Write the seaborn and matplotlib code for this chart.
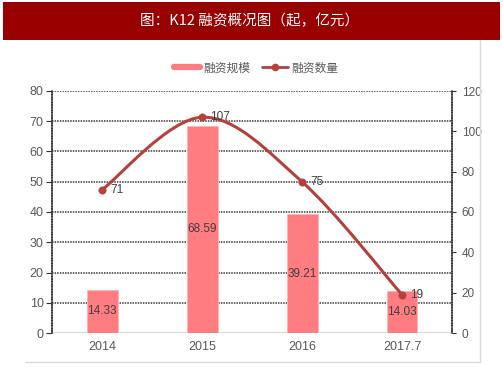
import matplotlib
matplotlib.use("Agg")
import matplotlib.pyplot as plt
import seaborn as sns
import pandas as pd
import numpy as np
from matplotlib.path import Path
from matplotlib.patches import PathPatch, Rectangle
from matplotlib.lines import Line2D

categories = ["2014", "2015", "2016", "2017.7"]
amount = [14.33, 68.59, 39.21, 14.03]      # 融资规模 (亿元)
count = [71, 107, 75, 19]                  # 融资数量 (起)
left_ticks = [0, 10, 20, 30, 40, 50, 60, 70, 80]
right_ticks = [0, 20, 40, 60, 80, 100, 120]

sns.set_theme(style="white")
plt.rcParams['font.family'] = ['Liberation Sans', 'Noto Sans CJK SC', 'DejaVu Sans']

W, H = 503, 378
fig = plt.figure(figsize=(W / 100, H / 100), dpi=100)
fig.patch.set_facecolor("white")

# title banner
fig.patches.append(Rectangle((3 / W, 1 - 40 / H), 497 / W, 38 / H, transform=fig.transFigure,
                             facecolor="#990000", edgecolor="none", zorder=0))
fig.text(250 / W, 1 - 21 / H, "图：K12 融资概况图（起，亿元）", color="white",
         fontsize=10.5, ha="center", va="center",
         family=['Noto Sans CJK SC', 'DejaVu Sans'])
# panel border (right + bottom)
fig.add_artist(Line2D([480 / W, 480 / W], [1 - 362 / H, 1 - 40 / H], transform=fig.transFigure,
                      color="#D9D9D9", lw=1))
fig.add_artist(Line2D([25 / W, 480 / W], [1 - 362 / H, 1 - 362 / H], transform=fig.transFigure,
                      color="#D9D9D9", lw=1))

ax = fig.add_axes([52 / W, 1 - 333 / H, 400 / W, 242 / H])
df = pd.DataFrame({"cat": categories, "amount": amount, "count": count})
bar_color = "#FF7C80"
line_color = "#B5403C"
sns.barplot(data=df, x="cat", y="amount", ax=ax, color=bar_color, width=0.31,
            saturation=1, edgecolor="#FFB3B5", linewidth=0.6, zorder=3)
ax.set_xlim(-0.5, 3.5)
ax.set_ylim(0, 80)
ax.set_yticks(left_ticks)
ax.set_xlabel("")
ax.set_ylabel("")
for y in left_ticks[1:]:
    ax.axhline(y, color="#3A3A3A", lw=1.1, ls=(0, (1.0, 0.7)), zorder=1)
ax.axhline(0, color="#D9D9D9", lw=1.5, zorder=2)
for s in ["top", "bottom", "right"]:
    ax.spines[s].set_visible(False)
ax.spines["left"].set_visible(True)
ax.spines["left"].set_color("#3A3A3A")
ax.spines["left"].set_linestyle((0, (1.0, 0.7)))
ax.spines["left"].set_linewidth(1.1)
ax.tick_params(axis="y", length=4, width=0.8, color="#333333", direction="out",
               labelsize=9, labelcolor="#595959", pad=2, left=True)
ax.tick_params(axis="x", length=0, labelsize=9, labelcolor="#595959", pad=6)

for i, v in enumerate(amount):
    ax.text(i, v / 2, f"{v:.2f}", ha="center", va="center", fontsize=8.5,
            color="#404040", zorder=6)

ax2 = ax.twinx()
ax2.set_ylim(0, 120)
ax2.set_yticks(right_ticks)
for s in ["top", "bottom", "left"]:
    ax2.spines[s].set_visible(False)
ax2.spines["right"].set_visible(True)
ax2.spines["right"].set_color("#3A3A3A")
ax2.spines["right"].set_linestyle((0, (1.0, 0.7)))
ax2.spines["right"].set_linewidth(1.1)
ax2.tick_params(axis="y", length=3, width=0.8, color="#333333", direction="out",
                labelsize=8.5, labelcolor="#595959", pad=4, right=True)
ax2.grid(False)

# smoothed line (Catmull-Rom -> cubic Bezier) in data coordinates
xs = np.arange(len(count), dtype=float)
ys = np.array(count, dtype=float)
P = np.column_stack([xs, ys])
Pext = np.vstack([P[0], P, P[-1]])
verts = [tuple(P[0])]
codes = [Path.MOVETO]
for i in range(len(P) - 1):
    p0, p1, p2, p3 = Pext[i], Pext[i + 1], Pext[i + 2], Pext[i + 3]
    c1 = p1 + (p2 - p0) / 6.0
    c2 = p2 - (p3 - p1) / 6.0
    verts += [tuple(c1), tuple(c2), tuple(p2)]
    codes += [Path.CURVE4] * 3
ax2.add_patch(PathPatch(Path(verts, codes), facecolor="none", edgecolor=line_color,
                        lw=2.2, zorder=4, capstyle="round"))
sns.scatterplot(data=df, x=xs, y="count", ax=ax2, color=line_color, s=28,
                edgecolor=line_color, zorder=5, legend=False)
ax2.set_xlim(-0.5, 3.5)
ax2.set_ylabel("")
for i, v in enumerate(count):
    ax2.annotate(str(v), (i, v), xytext=(6, 0), textcoords="offset points",
                 ha="left", va="center", fontsize=8.5, color="#404040", zorder=6)

handles = [Line2D([0], [0], color=bar_color, lw=4.5),
           Line2D([0], [0], color=line_color, lw=2, marker="o", markersize=4.5)]
fig.legend(handles, ["融资规模", "融资数量"], loc="center", bbox_to_anchor=(256 / W, 1 - 68 / H),
           ncol=2, frameon=False, handlelength=2.2, columnspacing=1.0,
           handletextpad=0.3, labelcolor="#595959",
           prop={'family': ['Noto Sans CJK SC', 'DejaVu Sans'], 'size': 8.5})

fig.savefig("out.png", dpi=100, facecolor="white")
